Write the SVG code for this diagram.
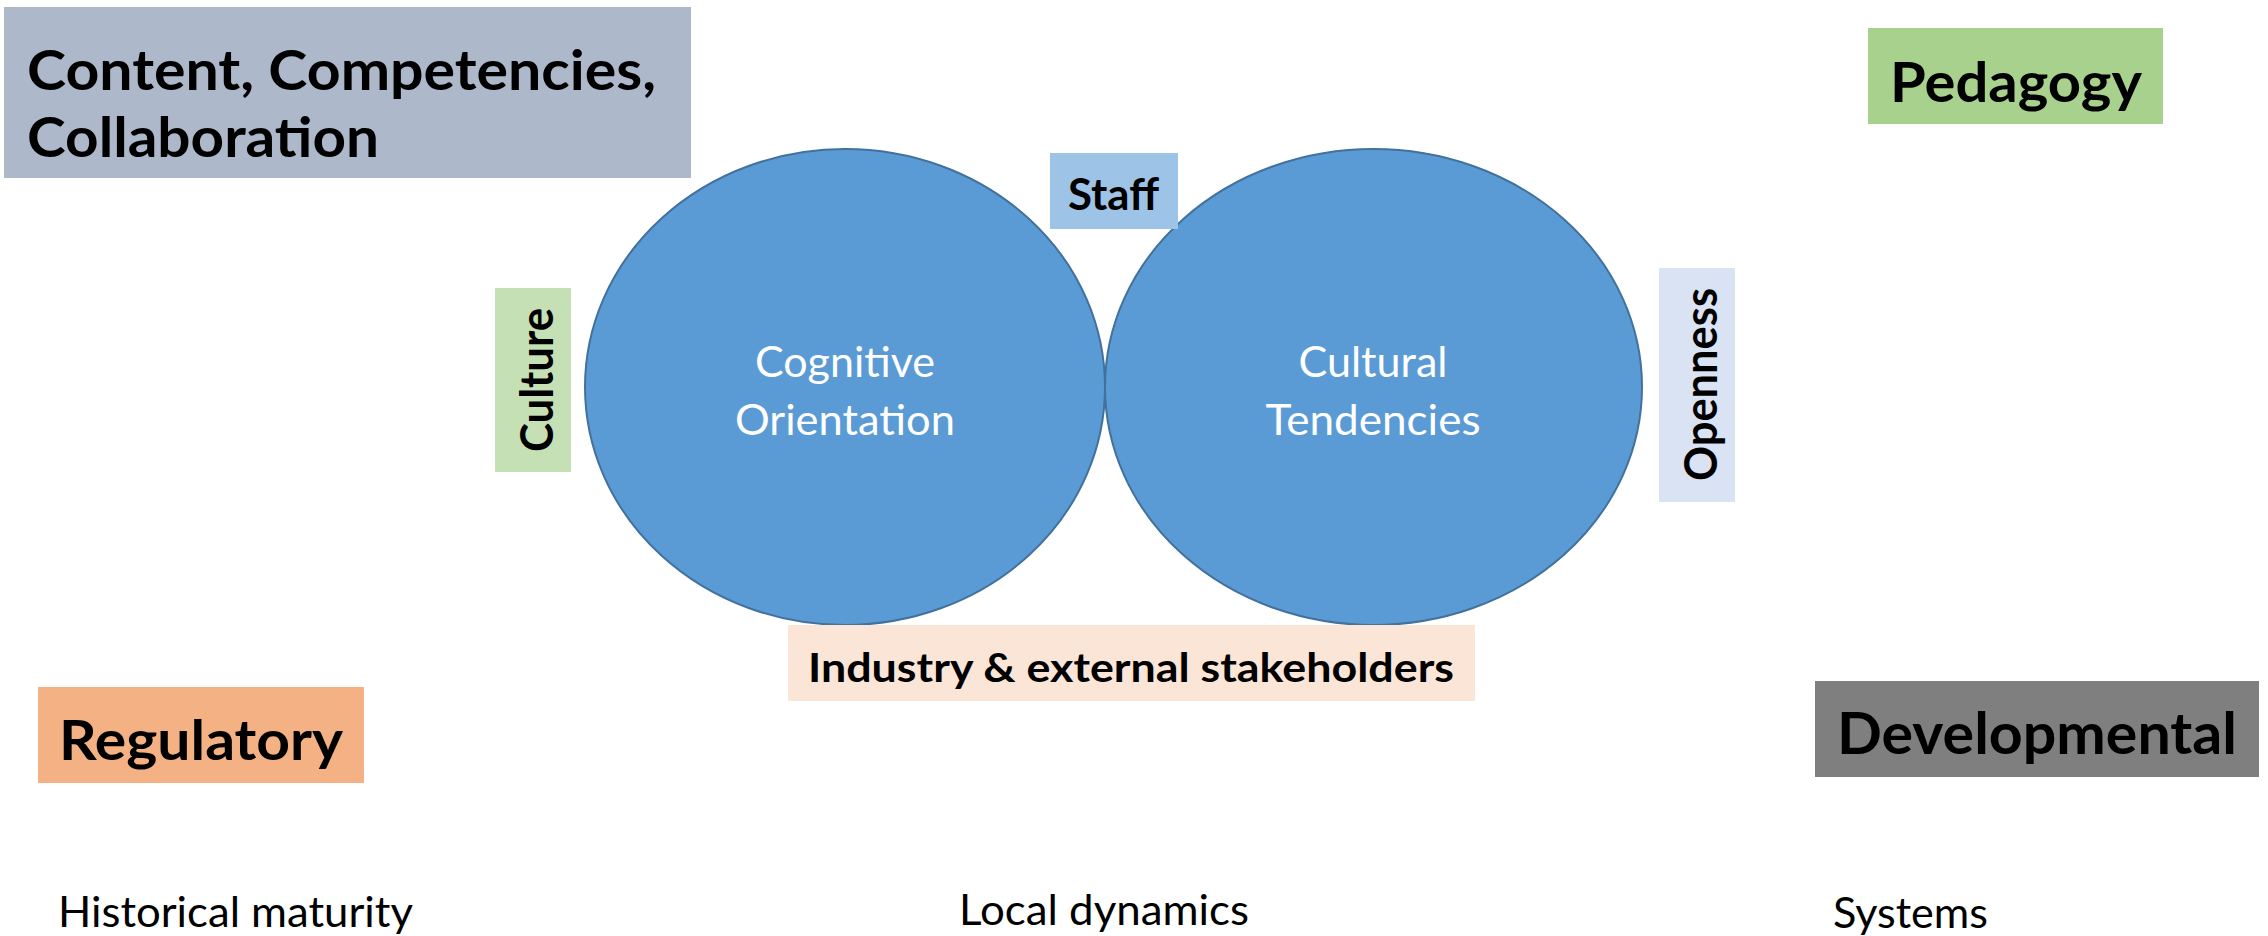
<svg xmlns="http://www.w3.org/2000/svg" width="2268" height="936" viewBox="0 0 2268 936">
<style>
.b{font-family:Lato,"Open Sans","Liberation Sans",sans-serif;font-weight:700;fill:#000}
.r{font-family:Lato,"Open Sans","Liberation Sans",sans-serif;font-weight:400;fill:#000}
.w{font-family:Lato,"Open Sans","Liberation Sans",sans-serif;font-weight:400;fill:#fff;text-anchor:middle}
.ell{fill:#5B9BD5;stroke:#41719C;stroke-width:2}
</style>
<rect width="2268" height="936" fill="#fff"/>
<g id="connectors"></g>
<g id="cognitive">
<ellipse class="ell" cx="845" cy="387" rx="260" ry="238"/>
<text class="w" x="845" y="377" font-size="42" textLength="180" lengthAdjust="spacingAndGlyphs">Cognitive</text>
<text class="w" x="845" y="435" font-size="42" textLength="220" lengthAdjust="spacingAndGlyphs">Orientation</text>
</g>
<g id="cultural">
<ellipse class="ell" cx="1373.5" cy="387" rx="268.5" ry="238"/>
<text class="w" x="1373" y="377" font-size="42" textLength="149" lengthAdjust="spacingAndGlyphs">Cultural</text>
<text class="w" x="1373" y="435" font-size="42" textLength="215" lengthAdjust="spacingAndGlyphs">Tendencies</text>
</g>
<g id="content">
<rect x="4" y="7" width="687" height="171" fill="#ADB9CA"/>
<text class="b" x="27" y="90" font-size="56" textLength="629" lengthAdjust="spacingAndGlyphs">Content, Competencies,</text>
<text class="b" x="27" y="157" font-size="56" textLength="352" lengthAdjust="spacingAndGlyphs">Collaboration</text>
</g>
<g id="pedagogy">
<rect x="1868" y="28" width="295" height="96" fill="#A9D18E"/>
<text class="b" x="1890" y="102" font-size="56" textLength="252" lengthAdjust="spacingAndGlyphs">Pedagogy</text>
</g>
<g id="staff">
<rect x="1050" y="153" width="128" height="76" fill="#9DC3E6"/>
<text class="b" x="1068" y="210" font-size="43" textLength="91" lengthAdjust="spacingAndGlyphs">Staff</text>
</g>
<g id="culture">
<rect x="495" y="288" width="76" height="184" fill="#C5E0B4"/>
<text class="b" transform="translate(553 452) rotate(-90)" x="0" y="0" font-size="45" textLength="144" lengthAdjust="spacingAndGlyphs">Culture</text>
</g>
<g id="openness">
<rect x="1659" y="268" width="76" height="234" fill="#DAE3F3"/>
<text class="b" transform="translate(1717 481) rotate(-90)" x="0" y="0" font-size="45" textLength="193" lengthAdjust="spacingAndGlyphs">Openness</text>
</g>
<g id="industry">
<rect x="788" y="625" width="687" height="76" fill="#FBE5D6"/>
<text class="b" x="808" y="682" font-size="40" textLength="646" lengthAdjust="spacingAndGlyphs">Industry &amp; external stakeholders</text>
</g>
<g id="regulatory">
<rect x="38" y="687" width="326" height="96" fill="#F4B183"/>
<text class="b" x="59" y="760" font-size="56" textLength="284" lengthAdjust="spacingAndGlyphs">Regulatory</text>
</g>
<g id="developmental">
<rect x="1815" y="681" width="444" height="96" fill="#7F7F7F"/>
<text class="b" x="1837" y="754" font-size="58" textLength="400" lengthAdjust="spacingAndGlyphs">Developmental</text>
</g>
<g id="historical">
<text class="r" x="58" y="927" font-size="42" textLength="355" lengthAdjust="spacingAndGlyphs">Historical maturity</text>
</g>
<g id="local">
<text class="r" x="959" y="925" font-size="42" textLength="290" lengthAdjust="spacingAndGlyphs">Local dynamics</text>
</g>
<g id="systems">
<text class="r" x="1833" y="928" font-size="42" textLength="155" lengthAdjust="spacingAndGlyphs">Systems</text>
</g>
</svg>
